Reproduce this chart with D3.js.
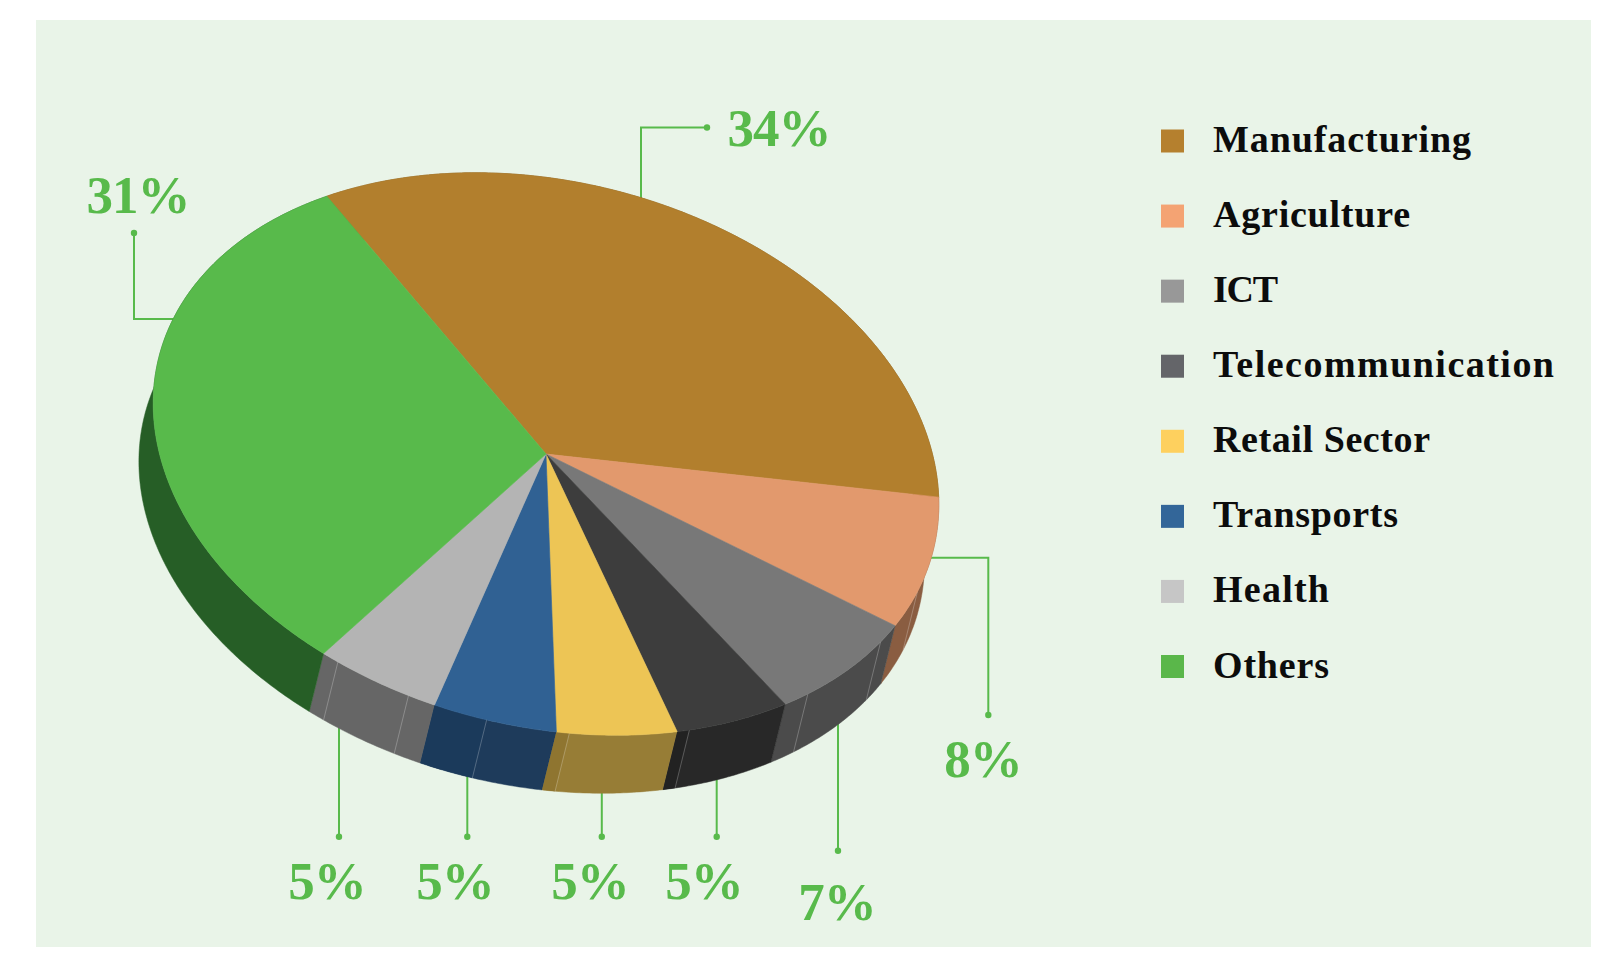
<!DOCTYPE html>
<html>
<head>
<meta charset="utf-8">
<script src="https://cdnjs.cloudflare.com/ajax/libs/d3/7.8.5/d3.min.js"></script>
<style>
  html, body { margin: 0; padding: 0; background: #fff; }
  svg { display: block; }
  text { font-family: "Liberation Serif", serif; font-weight: 700; }
</style>
</head>
<body>
<svg id="chart" width="1600" height="970"></svg>
<script>
// Sector shares, in percent
const sectors = ["Manufacturing", "Agriculture", "ICT", "Telecommunication", "Retail Sector", "Transports", "Health", "Others"];
const shares = [34, 8, 7, 5, 5, 5, 5, 31];

// Fill colours per sector
const legendColors = ["#b5802e", "#f4a373", "#989898", "#646569", "#fed05e", "#336699", "#c6c6c6", "#5ab74a"];
const topColors = ["#b27f2d", "#e2996d", "#787878", "#3d3d3d", "#edc555", "#306193", "#b4b4b4", "#58ba4b"];
const wallColors = ["#7c5820", "#8a5d41", "#4b4b4b", "#282828", "#977d36", "#1e3b5b", "#666666", "#265e26"];

// Facet seams on the outer wall, in degrees around the disc
const wallSeams = [9.4, 22, 38.6, 59, 77, 89.1, 100.9, 112.4];
// Slightly shaded wall facets: [from, to, colour]
const wallFacets = [[59, 60.9, "#222222"], [77, 78.9, "#8f7530"], [89.1, 96.9, "#1b3a5b"]];

// Disc geometry
const disc = { cx: 546, cy: 454, a: 399, b: 272.4, tilt: 13.9 * Math.PI / 180, depthX: -14.3, depthY: 58 };
const startDeg = 226.5;

// Leader lines and the label spot for each sector
const leaders = [
  { pts: [[641, 240], [641, 127.5], [707, 127.5]], lx: 779, ly: 146 },
  { pts: [[900, 557.7], [988.3, 557.7], [988.3, 715]], lx: 983, ly: 777 },
  { pts: [[838, 700], [838, 850.7]], lx: 837, ly: 920 },
  { pts: [[716.7, 760], [716.7, 836.7]], lx: 704, ly: 898.5 },
  { pts: [[601.8, 770], [601.8, 836.7]], lx: 590, ly: 898.5 },
  { pts: [[467.3, 760], [467.3, 836.7]], lx: 455, ly: 898.5 },
  { pts: [[339, 710], [339, 836.7]], lx: 327, ly: 898.5 },
  { pts: [[190, 319], [134, 319], [134, 233]], lx: 138, ly: 213 }
];

// Legend label widths
const legendTextWidths = [258, 197, 65, 341, 217, 185, 116, 116];

const svg = d3.select("#chart");
const accent = "#58ba4b";

// Background panel
svg.append("rect").attr("x", 36).attr("y", 20).attr("width", 1555).attr("height", 927).attr("fill", "#e9f4e8");

// Slice angles around the disc
const pie = d3.pie().sort(null).value(d => d)
  .startAngle(startDeg * Math.PI / 180)
  .endAngle((startDeg + 360) * Math.PI / 180);
const arcs = pie(shares);
const toDeg = rad => rad * 180 / Math.PI;

// Position on the rim of the tilted ellipse
const rim = (deg, dx = 0, dy = 0) => {
  const t = deg * Math.PI / 180;
  const u = disc.a * Math.cos(t), v = disc.b * Math.sin(t);
  return [
    disc.cx + u * Math.cos(disc.tilt) - v * Math.sin(disc.tilt) + dx,
    disc.cy + u * Math.sin(disc.tilt) + v * Math.cos(disc.tilt) + dy
  ];
};

const span = (from, to) => {
  const n = Math.max(2, Math.ceil(Math.abs(to - from) / 0.5));
  return d3.range(n + 1).map(i => from + (to - from) * i / n);
};
const line = d3.line();
const closed = pts => line(pts) + "Z";
const wallPath = (from, to) => {
  const steps = span(from, to);
  return closed([
    ...steps.map(d => rim(d)),
    ...steps.slice().reverse().map(d => rim(d, disc.depthX, disc.depthY))
  ]);
};

const legendColor = d3.scaleOrdinal().domain(sectors).range(legendColors);

// Leader lines sit under the disc so they emerge from its edge
const gLead = svg.append("g");
gLead.selectAll("path").data(leaders).join("path")
  .attr("d", d => line(d.pts)).attr("fill", "none").attr("stroke", accent).attr("stroke-width", 2);
gLead.selectAll("circle").data(leaders).join("circle")
  .attr("cx", d => d.pts[d.pts.length - 1][0]).attr("cy", d => d.pts[d.pts.length - 1][1])
  .attr("r", 3.2).attr("fill", accent);

// Outer wall
const gWall = svg.append("g");
gWall.selectAll("path.wall").data(arcs).join("path").attr("class", "wall")
  .attr("d", d => wallPath(toDeg(d.startAngle), toDeg(d.endAngle)))
  .attr("fill", (d, i) => wallColors[i]).attr("stroke", (d, i) => wallColors[i]).attr("stroke-width", 0.5);
gWall.selectAll("path.facet").data(wallFacets).join("path").attr("class", "facet")
  .attr("d", d => wallPath(d[0], d[1])).attr("fill", d => d[2]);
gWall.selectAll("path.seam").data(wallSeams).join("path").attr("class", "seam")
  .attr("d", d => line([rim(d), rim(d, disc.depthX, disc.depthY)]))
  .attr("stroke", "#ffffff").attr("stroke-opacity", 0.28).attr("stroke-width", 0.9).attr("fill", "none");

// Top face
svg.append("g").selectAll("path").data(arcs).join("path")
  .attr("d", d => {
    const steps = span(toDeg(d.startAngle), toDeg(d.endAngle));
    return closed([[disc.cx, disc.cy], ...steps.map(s => rim(s))]);
  })
  .attr("fill", (d, i) => topColors[i]).attr("stroke", (d, i) => topColors[i]).attr("stroke-width", 0.6);

// Percent labels
svg.append("g").selectAll("text").data(shares).join("text")
  .attr("x", (d, i) => leaders[i].lx).attr("y", (d, i) => leaders[i].ly)
  .attr("text-anchor", "middle").attr("font-size", 53).attr("letter-spacing", -1).attr("fill", accent)
  .text(d => d + "%");

// Legend
const legendY = d3.scalePoint().domain(sectors).range([141, 666.5]);
const gLegend = svg.append("g").selectAll("g").data(sectors).join("g")
  .attr("transform", d => `translate(1161,${legendY(d)})`);
gLegend.append("rect").attr("x", 0).attr("y", -11.5).attr("width", 23).attr("height", 23)
  .attr("fill", d => legendColor(d));
gLegend.append("text").attr("x", 52).attr("y", 11)
  .attr("font-size", 38).attr("fill", "#0c0c0c")
  .attr("textLength", (d, i) => legendTextWidths[i]).attr("lengthAdjust", "spacing")
  .text(d => d);
</script>
</body>
</html>
